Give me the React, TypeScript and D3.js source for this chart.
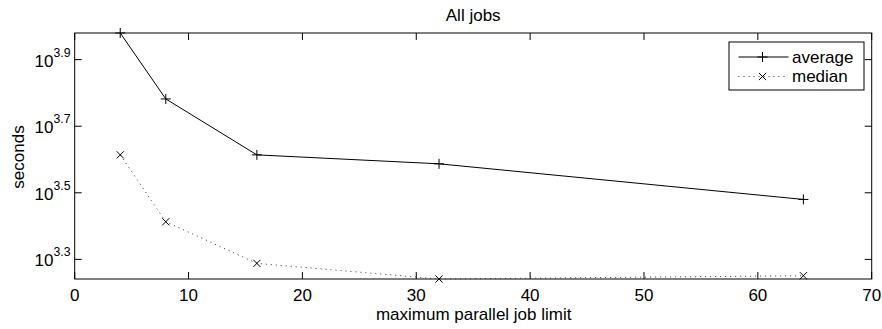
import React from "react";
import * as d3 from "d3";

// Job-limit sweep: seconds per job at each maximum parallel job limit
const jobLimits = [4, 8, 16, 32, 64];
const averageSeconds = [9550, 6053, 4111, 3864, 3020];
const medianSeconds = [4111, 2588, 1941, 1742, 1782];
const xTicks = [0, 10, 20, 30, 40, 50, 60, 70];
const yTickExponents = [3.3, 3.5, 3.7, 3.9];

const W = 882;
const H = 329;
const M = { left: 74.7, right: 871.7, top: 33, bottom: 279 };
const FONT = "'Liberation Sans', Arial, Helvetica, sans-serif";
const FS = 17;

export default function App() {
  const x = d3.scaleLinear().domain([0, 70]).range([M.left, M.right]);
  const all = [...averageSeconds, ...medianSeconds];
  const y = d3
    .scaleLog()
    .domain([d3.min(all) as number, d3.max(all) as number])
    .range([M.bottom, M.top]);

  const line = d3
    .line<[number, number]>()
    .x((d) => x(d[0]))
    .y((d) => y(d[1]));

  const avgPts = jobLimits.map((j, i) => [j, averageSeconds[i]] as [number, number]);
  const medPts = jobLimits.map((j, i) => [j, medianSeconds[i]] as [number, number]);

  const tickLen = 7;
  const plus = (cx: number, cy: number, k: string) => (
    <path key={k} d={`M${cx - 5},${cy}H${cx + 5}M${cx},${cy - 5}V${cy + 5}`} stroke="#000" strokeWidth={1} fill="none" />
  );
  const cross = (cx: number, cy: number, k: string) => (
    <path key={k} d={`M${cx - 3.6},${cy - 3.6}L${cx + 3.6},${cy + 3.6}M${cx - 3.6},${cy + 3.6}L${cx + 3.6},${cy - 3.6}`} stroke="#000" strokeWidth={1} fill="none" />
  );

  return (
    <svg width={W} height={H} style={{ position: "absolute", left: 0, top: 0, background: "#fff" }} fontFamily={FONT}>
      <rect x={0} y={0} width={W} height={H} fill="#fff" />
      <text x={(M.left + M.right) / 2} y={20.5} textAnchor="middle" fontSize={FS}>All jobs</text>

      {/* x ticks, bottom and top, pointing inward */}
      {xTicks.map((t) => (
        <g key={"xt" + t}>
          <line x1={x(t)} x2={x(t)} y1={M.bottom} y2={M.bottom - tickLen} stroke="#000" />
          <line x1={x(t)} x2={x(t)} y1={M.top} y2={M.top + tickLen} stroke="#000" />
          <text x={x(t)} y={300.5} textAnchor="middle" fontSize={FS}>{t}</text>
        </g>
      ))}

      {/* y ticks on a log scale, labelled as powers of ten */}
      {yTickExponents.map((e) => {
        const yy = y(Math.pow(10, e));
        return (
          <g key={"yt" + e}>
            <line x1={M.left} x2={M.left + tickLen} y1={yy} y2={yy} stroke="#000" />
            <line x1={M.right} x2={M.right - tickLen} y1={yy} y2={yy} stroke="#000" />
            <text x={70.5} y={yy + 7} textAnchor="end" fontSize={FS}>
              10
              <tspan fontSize={12.3} dy={-10}>{e.toFixed(1)}</tspan>
            </text>
          </g>
        );
      })}

      <rect x={M.left} y={M.top} width={M.right - M.left} height={M.bottom - M.top} fill="none" stroke="#000" strokeWidth={1} />

      <text x={(M.left + M.right) / 2 + 0.5} y={319.5} textAnchor="middle" fontSize={FS}>maximum parallel job limit</text>
      <text transform={`translate(23.5,${(M.top + M.bottom) / 2 + 1}) rotate(-90)`} textAnchor="middle" fontSize={FS}>seconds</text>

      <path d={line(avgPts) ?? ""} fill="none" stroke="#000" strokeWidth={1} />
      <path d={line(medPts) ?? ""} fill="none" stroke="#333" strokeWidth={1} strokeDasharray="1,4" />
      {avgPts.map((p, i) => plus(x(p[0]), y(p[1]), "a" + i))}
      {medPts.map((p, i) => cross(x(p[0]), y(p[1]), "m" + i))}

      {/* legend */}
      <rect x={729} y={42} width={135} height={48} fill="#fff" stroke="#000" strokeWidth={1} />
      <line x1={738.5} x2={788.5} y1={57} y2={57} stroke="#000" />
      {plus(762.5, 57, "lg1")}
      <text x={792} y={62.5} fontSize={FS}>average</text>
      <line x1={738.5} x2={788.5} y1={76.5} y2={76.5} stroke="#333" strokeDasharray="1,4" />
      {cross(762.5, 76.5, "lg2")}
      <text x={792} y={82} fontSize={FS}>median</text>
    </svg>
  );
}
